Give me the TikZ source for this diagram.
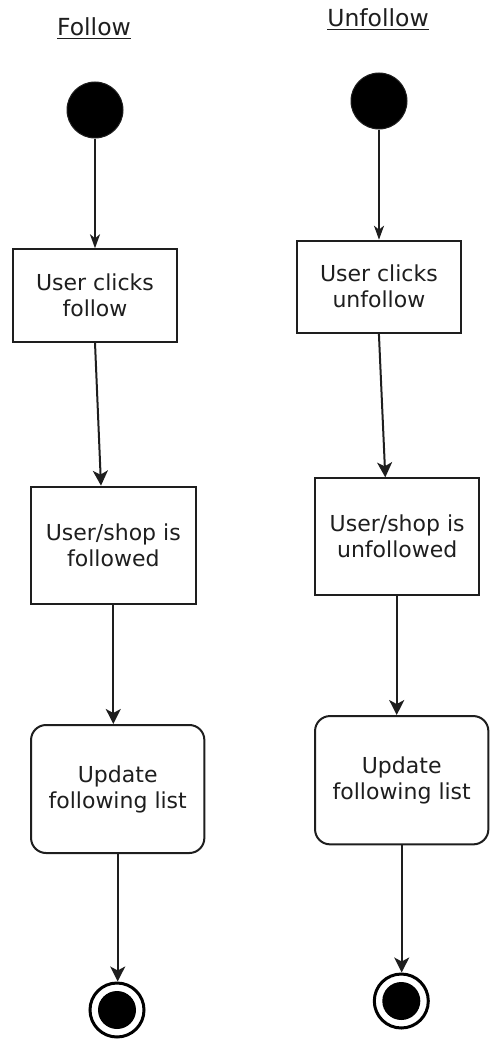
\documentclass[tikz,border=0pt]{standalone}
\usepackage{fontspec}
\setmainfont{DejaVu Sans}
\usetikzlibrary{arrows.meta,calc}
\definecolor{ink}{HTML}{1E1E1E}
\tikzset{
  lbl/.style={font=\fontsize{22}{26}\selectfont, text=ink, align=center},
  ttl/.style={font=\fontsize{23.5}{28}\selectfont, text=ink, anchor=base, inner sep=0pt},
  start/.style={circle, fill=black, draw=ink, line width=1pt, minimum size=56pt, inner sep=0pt},
  finish/.style={circle, draw=black, line width=3pt, fill=white, minimum size=54pt, inner sep=0pt},
  act/.style={lbl, rectangle, draw=ink, line width=2pt, fill=white, inner sep=0pt},
  actr/.style={act, rounded corners=15pt},
  flow/.style={draw=ink, line width=2pt, -{Stealth[length=15pt, width=15pt, inset=4pt]}},
  flows/.style={draw=ink, line width=2pt, -{Stealth[length=14pt, width=10pt, inset=4pt]}}
}
\begin{document}
\begin{tikzpicture}[x=1pt, y=-1pt]
  \useasboundingbox (0,0) rectangle (492,1041);

  % Follow column
  \node[ttl] (t1) at (94,36) {\underline{Follow}};
  \node[start] (s1) at (95,110) {};
  \node[act, minimum width=164.6pt, minimum height=92.4pt] (a1) at (95,295.5) {User clicks\\follow};
  \node[act, minimum width=164.7pt, minimum height=117.3pt] (a2) at (113.3,545.3) {User/shop is\\followed};
  \node[actr, minimum width=173.3pt, minimum height=128pt] (a3) at (117.7,789) {Update\\following list};
  \node[finish] (e1) at (117,1010) {};
  \fill[black] (e1.center) circle (19pt);

  \draw[flows] (s1.south) -- (s1.south |- a1.north);
  \draw[flow] (a1.south) -- ($(a2.north)+(-12.3,0)$);
  \draw[flow] (a2.south) -- (a2.south |- a3.north);
  \draw[flow] (a3.south) -- (a3.south |- e1.north);

  % Unfollow column
  \node[ttl] (t2) at (378,27) {\underline{Unfollow}};
  \node[start] (s2) at (379,101) {};
  \node[act, minimum width=164.3pt, minimum height=92pt] (b1) at (378.9,286.7) {User clicks\\unfollow};
  \node[act, minimum width=164.3pt, minimum height=116.7pt] (b2) at (397.2,536.7) {User/shop is\\unfollowed};
  \node[actr, minimum width=173.3pt, minimum height=128.3pt] (b3) at (401.7,780.2) {Update\\following list};
  \node[finish] (e2) at (401.3,1001) {};
  \fill[black] (e2.center) circle (19pt);

  \draw[flows] (s2.south) -- (s2.south |- b1.north);
  \draw[flow] (b1.south) -- ($(b2.north)+(-11.9,0)$);
  \draw[flow] ($(b2.south)+(-0.5,0)$) -- ($(b2.south |- b3.north)+(-0.5,0)$);
  \draw[flow] (b3.south) -- (b3.south |- e2.north);
\end{tikzpicture}
\end{document}
